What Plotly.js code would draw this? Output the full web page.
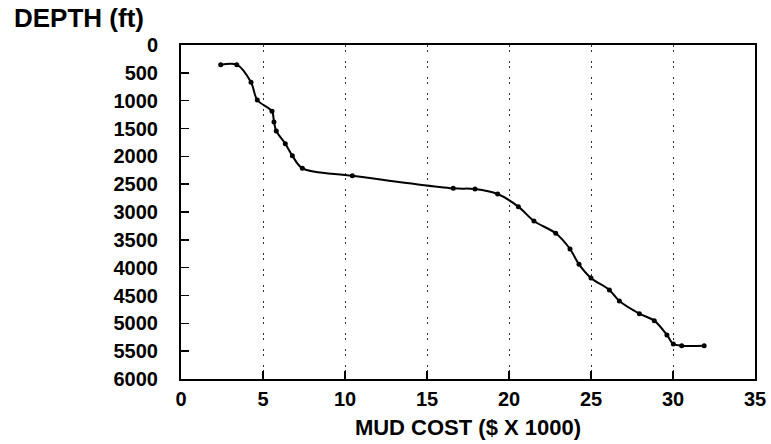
<!DOCTYPE html>
<html>
<head>
<meta charset="utf-8">
<script src="https://cdn.plot.ly/plotly-3.0.1.min.js"></script>
<style>
html,body{margin:0;padding:0;background:#fff;}
#chart{width:771px;height:444px;}
</style>
</head>
<body>
<div id="chart"></div>
<script>
const mudCost = [2.42, 3.40, 4.27, 4.65, 5.55, 5.67, 5.81, 6.36, 6.79, 7.40, 10.45, 16.6, 17.93, 19.31, 20.57, 21.52, 22.85, 23.72, 24.27, 25.0, 26.12, 26.73, 27.95, 28.86, 29.63, 30.02, 30.53, 31.9];
const depthFt = [354, 354, 670, 988, 1191, 1383, 1545, 1773, 1988, 2215, 2348, 2575, 2587, 2677, 2904, 3162, 3383, 3665, 3940, 4185, 4401, 4599, 4826, 4952, 5209, 5371, 5401, 5401];
const xTicks = [0, 5, 10, 15, 20, 25, 30, 35];
const yTicks = [0, 500, 1000, 1500, 2000, 2500, 3000, 3500, 4000, 4500, 5000, 5500, 6000];
const yTitle = "DEPTH (ft)";
const xTitle = "MUD COST ($ X 1000)";

const fontFam = "Liberation Sans, Arial, sans-serif";

const trace = {
  x: mudCost,
  y: depthFt,
  type: "scatter",
  mode: "lines+markers",
  line: {color: "#000", width: 2, shape: "spline", smoothing: 0.9},
  marker: {color: "#000", size: 5, symbol: "circle"},
  hoverinfo: "x+y"
};

const layout = {
  width: 771,
  height: 444,
  margin: {l: 181, r: 16, t: 45, b: 65},
  paper_bgcolor: "#fff",
  plot_bgcolor: "#fff",
  showlegend: false,
  font: {family: fontFam, color: "#000"},
  xaxis: {
    range: [0, 35],
    tickvals: xTicks,
    ticktext: xTicks.map(String),
    ticks: "inside",
    ticklen: 8,
    tickwidth: 1.5,
    tickcolor: "#000",
    showline: true,
    linecolor: "#000",
    linewidth: 2,
    mirror: true,
    showgrid: true,
    gridcolor: "#333",
    gridwidth: 1,
    griddash: "2px,3px,2px,9px",
    zeroline: false,
    tickfont: {family: fontFam, size: 20, color: "#000", weight: "bold"},
    ticklabelstandoff: 1,
    title: {text: xTitle, font: {family: fontFam, size: 22, color: "#000", weight: "bold"}, standoff: 11}
  },
  yaxis: {
    range: [6000, 0],
    tickvals: yTicks,
    ticktext: yTicks.map(String),
    ticks: "inside",
    ticklen: 8,
    tickwidth: 1.5,
    tickcolor: "#000",
    showline: true,
    linecolor: "#000",
    linewidth: 2,
    mirror: true,
    showgrid: false,
    zeroline: false,
    tickfont: {family: fontFam, size: 20, color: "#000", weight: "bold"},
    ticklabelstandoff: 17
  },
  annotations: [{
    text: yTitle,
    xref: "paper", yref: "paper",
    x: -169/575, y: 1 + 27/334,
    xanchor: "left", yanchor: "middle",
    showarrow: false,
    font: {family: fontFam, size: 26, color: "#000", weight: "bold"}
  }]
};

Plotly.newPlot("chart", [trace], layout, {displayModeBar: false, staticPlot: true});
</script>
</body>
</html>
